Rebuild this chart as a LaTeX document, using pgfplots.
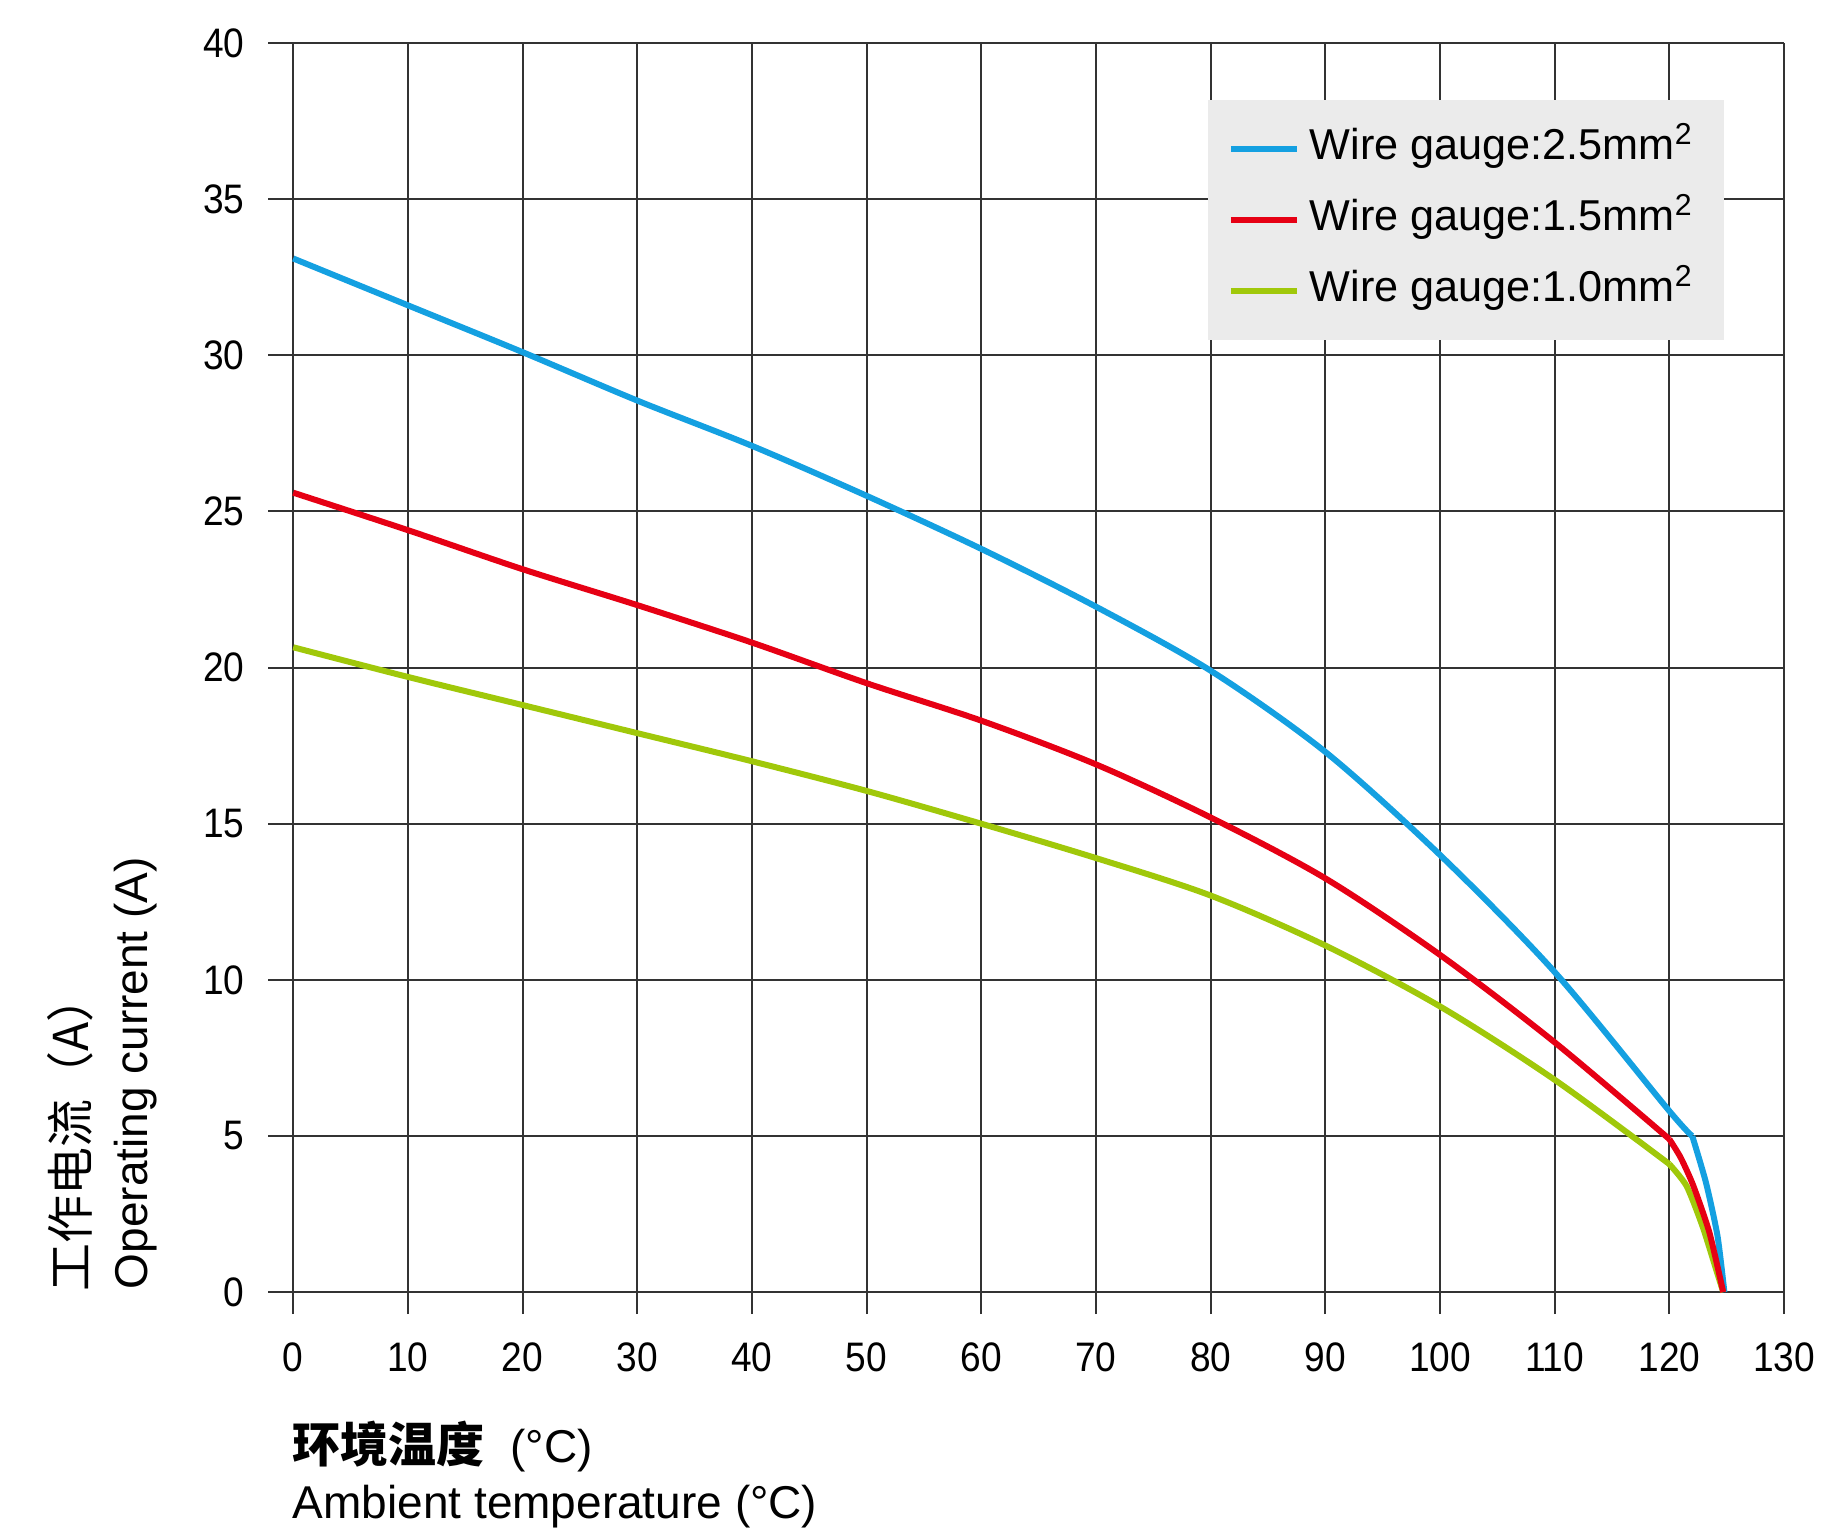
\documentclass[border=0pt]{standalone}
\usepackage{pgfplots}
\pgfplotsset{compat=1.18}
\usepackage{fontspec}
\setmainfont{Liberation Sans}
\newfontfamily\cjk{Noto Sans CJK SC}
\definecolor{cblue}{RGB}{20,160,225}
\definecolor{cred}{RGB}{230,0,20}
\definecolor{cgreen}{RGB}{160,200,10}
\definecolor{legfill}{RGB}{235,235,235}
\begin{document}
\begin{tikzpicture}
\begin{axis}[
  at={(0,0)}, anchor=south west,
  scale only axis, width=379pt, height=317.75pt,
  xmin=-2.2, xmax=130, ymin=-0.7, ymax=40,
  xtick={0,10,...,130}, ytick={0,5,...,40},
  axis line style={draw=none},
  major tick length=0pt,
  grid=major,
  major grid style={black!80, line width=0.5pt},
  /pgf/number format/assume math mode=true,
  ticklabel style={font=\fontsize{10.3}{12}\selectfont},
  xticklabel style={anchor=north, inner sep=0pt, yshift=-7pt, xscale=0.9},
  yticklabel style={anchor=east, inner sep=0pt, xshift=-5.75pt, xscale=0.9},
  legend style={at={(0.6195,0.9558)}, anchor=north west, fill=legfill, draw=none,
    font=\fontsize{10.8}{12}\selectfont, inner xsep=5pt, inner ysep=7pt,
    row sep=7.25pt,
    nodes={inner sep=0pt, text height=8pt, text depth=2.5pt, inner xsep=2.5pt}},
  legend cell align=left,
  legend image code/.code={\draw[#1, line width=1.5pt] (0pt,0pt) -- (16.5pt,0pt);},
]
\addplot[cblue, line width=1.5pt, smooth] coordinates {
(0,33.1)(10,31.6)(20,30.1)(30,28.55)(40,27.1)(50,25.5)(60,23.8)(70,21.95)(80,19.9)(90,17.3)(100,14.0)(110,10.25)(120,5.8)(122,5.0)};
\addlegendentry{Wire gauge:2.5mm\textsuperscript{2}}
\addplot[cred, line width=1.5pt, smooth] coordinates {
(0,25.6)(10,24.4)(20,23.15)(30,22.0)(40,20.8)(50,19.5)(60,18.3)(70,16.9)(80,15.2)(90,13.25)(100,10.8)(110,8.0)(120,4.9)};
\addlegendentry{Wire gauge:1.5mm\textsuperscript{2}}
\addplot[cgreen, line width=1.5pt, smooth] coordinates {
(0,20.65)(10,19.7)(20,18.8)(30,17.9)(40,17.0)(50,16.05)(60,15.0)(70,13.9)(80,12.7)(90,11.1)(100,9.15)(110,6.8)(120,4.1)};
\addlegendentry{Wire gauge:1.0mm\textsuperscript{2}}
\addplot[cblue, line width=1.5pt, smooth, tension=0.4, forget plot] coordinates {
(122,5.0)(123.2,3.5)(124.2,1.8)(124.8,0)};
\addplot[cgreen, line width=1.5pt, smooth, tension=0.4, forget plot] coordinates {
(120,4.1)(121.5,3.4)(122.9,2.1)(124.1,0.7)(124.7,0)};
\addplot[cred, line width=1.5pt, smooth, tension=0.4, forget plot] coordinates {
(120,4.9)(121,4.3)(122.1,3.4)(123.5,1.9)(124.7,0)};
\end{axis}
\node[anchor=base west, inner sep=0pt] at (6pt,-37pt) {{\cjk\bfseries\fontsize{12}{14}\selectfont 环境温度}\fontsize{11.5}{14}\selectfont\ \ (°C)};
\node[anchor=base west, inner sep=0pt] at (6pt,-51pt) {\fontsize{11.5}{14}\selectfont Ambient temperature (°C)};
\node[anchor=base west, inner sep=0pt, rotate=90] at (-30.25pt,6pt) {\fontsize{11.5}{14}\selectfont Operating current (A)};
\node[anchor=base west, inner sep=0pt, rotate=90] at (-45pt,5.5pt) {\cjk\fontsize{12}{14}\selectfont 工作电流（A）};
\pgfresetboundingbox
\path[use as bounding box] (-67pt,-55pt) rectangle (390.5pt,328.5pt);
\end{tikzpicture}
\end{document}
